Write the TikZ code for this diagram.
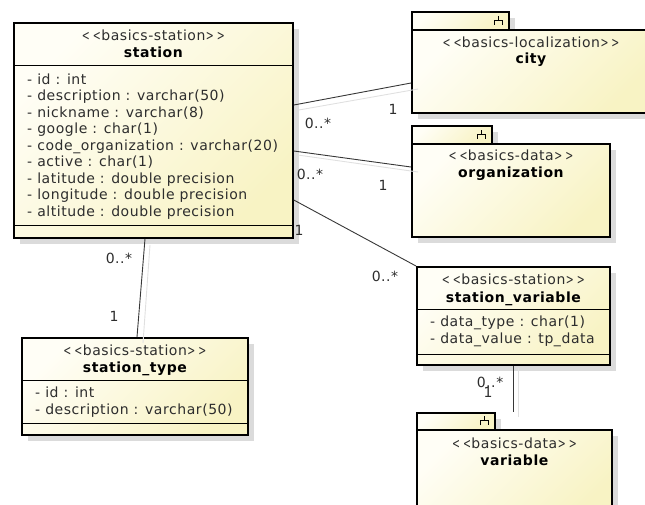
\documentclass[tikz,border=0pt]{standalone}
\usepackage{fontspec}
\setmainfont{DejaVu Sans}[LetterSpace=4]
\usepackage{xcolor}
\usetikzlibrary{positioning,shadows,calc}

\definecolor{boxlight}{RGB}{255,254,246}
\definecolor{boxdark}{RGB}{248,243,196}
\definecolor{linkgray}{RGB}{55,55,55}
\definecolor{textgray}{RGB}{45,45,45}

\newcommand{\narrowlt}{\scalebox{0.68}[1]{<}}
\newcommand{\narrowgt}{\scalebox{0.68}[1]{>}}
\newcommand{\stereo}[1]{\narrowlt\kern3pt\narrowlt\kern0.5pt#1\kern0.5pt\narrowgt\kern3pt\narrowgt}

\tikzset{
	umlbox/.style={draw=black, line width=1.8pt, anchor=north west, inner sep=0pt,
		left color=boxlight, right color=boxdark, shading angle=45,
		drop shadow={shadow xshift=6pt, shadow yshift=-6pt, fill=black!14, opacity=1}},
	umlsep/.style={draw=black, line width=0.8pt},
	stereotext/.style={anchor=base, inner sep=0pt, text=textgray, font=\fontsize{14}{16.5}\selectfont},
	nametext/.style={anchor=base, inner sep=0pt, font=\fontsize{14}{16.5}\selectfont\bfseries},
	attrtext/.style={anchor=base west, inner sep=0pt, align=left, text=textgray, font=\fontsize{14}{16.5}\selectfont},
	assoc/.style={draw=linkgray, line width=0.9pt},
	assocshadow/.style={draw=black!12, line width=0.9pt},
	mult/.style={inner sep=0pt, text=textgray, font=\fontsize{14}{16.5}\selectfont},
	pkgicon/.style={draw=black, line width=0.8pt}
}

\begin{document}
\begin{tikzpicture}[x=1pt,y=-1pt]
	\useasboundingbox (0,0) rectangle (645,504);

	% station
	\node[umlbox, minimum width=279pt, minimum height=215pt] (station) at (13,22) {};
	\node[stereotext] (station-stereo) at ($(station.north)+(0,18)$) {\stereo{basics-station}};
	\node[nametext] (station-name) at ($(station.north)+(0,35)$) {station};
	\draw[umlsep] ([yshift=-43pt]station.north west) -- ([yshift=-43pt]station.north east);
	\draw[umlsep] ([yshift=13pt]station.south west) -- ([yshift=13pt]station.south east);
	\node[attrtext] (station-attr) at ($(station.north west)+(14,194)$) {- id : int\\
		- description : varchar(50)\\
		- nickname : varchar(8)\\
		- google : char(1)\\
		- code\_organization : varchar(20)\\
		- active : char(1)\\
		- latitude : double precision\\
		- longitude : double precision\\
		- altitude : double precision};

	% station_type
	\node[umlbox, minimum width=226pt, minimum height=97pt] (stationtype) at (21,337) {};
	\node[stereotext] (stationtype-stereo) at ($(stationtype.north)+(0,18)$) {\stereo{basics-station}};
	\node[nametext] (stationtype-name) at ($(stationtype.north)+(0,35)$) {station\_type};
	\draw[umlsep] ([yshift=-43pt]stationtype.north west) -- ([yshift=-43pt]stationtype.north east);
	\draw[umlsep] ([yshift=12pt]stationtype.south west) -- ([yshift=12pt]stationtype.south east);
	\node[attrtext] (stationtype-attr) at ($(stationtype.north west)+(14,77)$) {- id : int\\
		- description : varchar(50)};

	% station_variable
	\node[umlbox, minimum width=193pt, minimum height=98pt] (stationvar) at (416,266) {};
	\node[stereotext] (stationvar-stereo) at ($(stationvar.north)+(0,18)$) {\stereo{basics-station}};
	\node[nametext] (stationvar-name) at ($(stationvar.north)+(0,36)$) {station\_variable};
	\draw[umlsep] ([yshift=-43pt]stationvar.north west) -- ([yshift=-43pt]stationvar.north east);
	\draw[umlsep] ([yshift=11pt]stationvar.south west) -- ([yshift=11pt]stationvar.south east);
	\node[attrtext] (stationvar-attr) at ($(stationvar.north west)+(14,77)$) {- data\_type : char(1)\\
		- data\_value : tp\_data};

	% city
	\node[umlbox, minimum width=97pt, minimum height=18pt] (citytab) at (411,11) {};
	\node[umlbox, minimum width=240pt, minimum height=83pt] (city) at (411,29) {};
	\node[stereotext] (city-stereo) at ($(city.north west)+(120,18)$) {\stereo{basics-localization}};
	\node[nametext] (city-name) at ($(city.north west)+(120,34)$) {city};
	\draw[pkgicon] ($(citytab.east)+(-15,4)$) -- ++(0,-5) -- ++(8,0) -- ++(0,5) ($(citytab.east)+(-11,-1)$) -- ++(0,-4);

	% organization
	\node[umlbox, minimum width=80pt, minimum height=18pt] (orgtab) at (411,125) {};
	\node[umlbox, minimum width=198pt, minimum height=93pt] (org) at (411,143) {};
	\node[stereotext] (org-stereo) at ($(org.north)+(0,17)$) {\stereo{basics-data}};
	\node[nametext] (org-name) at ($(org.north)+(0,34)$) {organization};
	\draw[pkgicon] ($(orgtab.east)+(-15,4)$) -- ++(0,-5) -- ++(8,0) -- ++(0,5) ($(orgtab.east)+(-11,-1)$) -- ++(0,-4);

	% variable
	\node[umlbox, minimum width=78pt, minimum height=17pt] (variabletab) at (416,412) {};
	\node[umlbox, minimum width=195pt, minimum height=90pt] (variable) at (416,429) {};
	\node[stereotext] (variable-stereo) at ($(variable.north)+(0,19)$) {\stereo{basics-data}};
	\node[nametext] (variable-name) at ($(variable.north)+(0,36)$) {variable};
	\draw[pkgicon] ($(variabletab.east)+(-15,4)$) -- ++(0,-5) -- ++(8,0) -- ++(0,5) ($(variabletab.east)+(-11,-1)$) -- ++(0,-4);

	% associations
	\coordinate (st-city) at ($(station.north east)+(0,83)$);
	\coordinate (city-st) at ($(city.north west)+(0,54)$);
	\coordinate (st-org) at ($(station.north east)+(0,129)$);
	\coordinate (org-st) at ($(org.north west)+(0,24)$);
	\coordinate (st-var) at ($(station.north east)+(0,178)$);
	\coordinate (st-type) at ($(station.south west)+(132,0)$);
	\coordinate (type-st) at ($(stationtype.north west)+(116,0)$);
	\coordinate (var-variable) at ($(stationvar.south west)+(97,0)$);
	\coordinate (variable-var) at (var-variable |- variabletab.north);

	\draw[assocshadow] ([shift={(5,5)}]st-city) -- ([shift={(7,6)}]city-st);
	\draw[assocshadow] ([shift={(4,4)}]st-org) -- ([shift={(7,5)}]org-st);
	\draw[assocshadow] ([shift={(5,6)}]st-type) -- ([shift={(6,6)}]type-st);
	\draw[assocshadow] ([shift={(5,2)}]var-variable) -- ([shift={(5,5)}]variable-var);

	\draw[assoc] (st-city) -- (city-st);
	\draw[assoc] (st-org) -- (org-st);
	\draw[assoc] (st-var) -- (stationvar.north west);
	\draw[assoc] (st-type) -- (type-st);
	\draw[assoc] (var-variable) -- (variable-var);

	% multiplicities
	\node[mult] (m-st-city) at (318,123) {0..*};
	\node[mult] (m-city) at (393,109) {1};
	\node[mult] (m-st-org) at (310,174) {0..*};
	\node[mult] (m-org) at (383,185) {1};
	\node[mult] (m-st-var) at (299,230) {1};
	\node[mult] (m-var-st) at (385,276) {0..*};
	\node[mult] (m-st-type) at (119,258) {0..*};
	\node[mult] (m-type) at (114,316) {1};
	\node[mult] (m-var-variable) at (490,382) {0..*};
	\node[mult] (m-variable) at (488,392) {1};
\end{tikzpicture}
\end{document}
